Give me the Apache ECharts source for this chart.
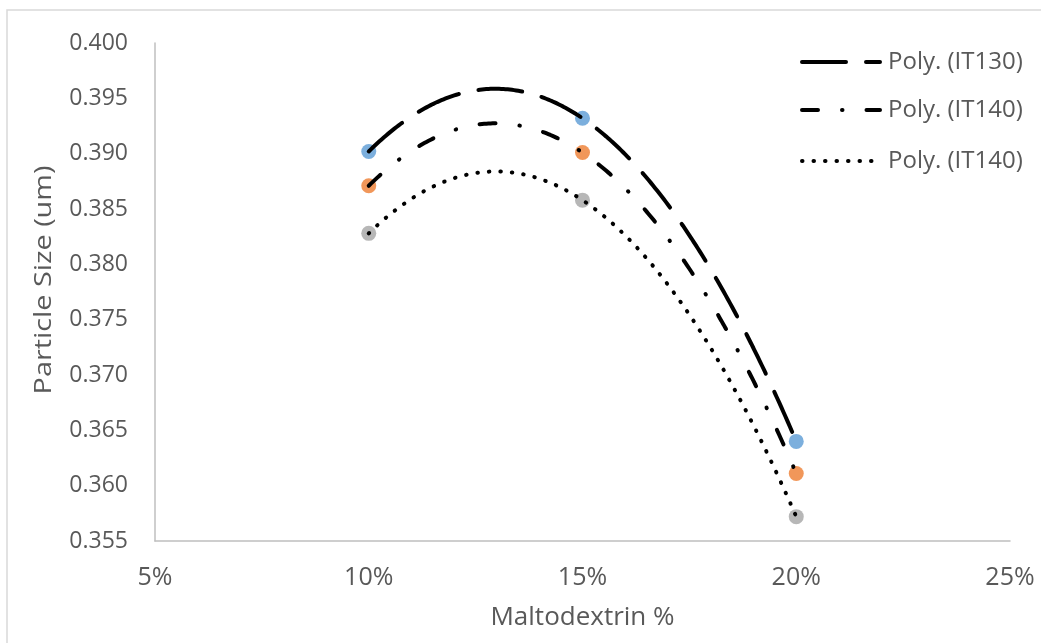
<!DOCTYPE html>
<html>
<head>
<meta charset="utf-8">
<style>
  html, body { margin: 0; padding: 0; background: #fff; }
  #chart { width: 1041px; height: 643px; }
</style>
<script src="https://cdn.jsdelivr.net/npm/echarts@6/dist/echarts.min.js"></script>
</head>
<body>
<div id="chart"></div>
<script>
// Maltodextrin concentration (%) and measured particle size (um)
const maltodextrin = [10, 15, 20];
const sizeIT130 = [0.3902, 0.3932, 0.3640];
const sizeIT140 = [0.3871, 0.3901, 0.3611];
const sizeIT140b = [0.3828, 0.3858, 0.3572];

const xTicks = [5, 10, 15, 20, 25];
const trendNames = ['Poly. (IT130)', 'Poly. (IT140)', 'Poly. (IT140)'];
const yTitle = 'Particle Size (um)';
const xTitle = 'Maltodextrin %';

// Dash patterns for the three trendlines
const dashIT130 = [44, 20];
const dashIT140 = [16, 24, 0.5, 24];
const dashIT140b = [0.5, 11];

// Second-order least-squares fit, evaluated across the measured range
function polyTrend(xs, ys) {
  const S = [0, 0, 0, 0, 0], T = [0, 0, 0];
  xs.forEach((x, i) => {
    for (let k = 0; k < 5; k++) S[k] += Math.pow(x, k);
    for (let k = 0; k < 3; k++) T[k] += ys[i] * Math.pow(x, k);
  });
  const A = [[S[0], S[1], S[2], T[0]], [S[1], S[2], S[3], T[1]], [S[2], S[3], S[4], T[2]]];
  for (let c = 0; c < 3; c++) {
    for (let r = c + 1; r < 3; r++) {
      const f = A[r][c] / A[c][c];
      for (let k = c; k < 4; k++) A[r][k] -= f * A[c][k];
    }
  }
  const b = [0, 0, 0];
  for (let r = 2; r >= 0; r--) {
    let s = A[r][3];
    for (let k = r + 1; k < 3; k++) s -= A[r][k] * b[k];
    b[r] = s / A[r][r];
  }
  const lo = Math.min(...xs), hi = Math.max(...xs);
  const pts = [];
  for (let i = 0; i <= 200; i++) {
    const x = lo + (hi - lo) * i / 200;
    pts.push([x, b[0] + b[1] * x + b[2] * x * x]);
  }
  return pts;
}

const pairs = ys => maltodextrin.map((x, i) => [x, ys[i]]);

const textColor = '#595959';
const wideFont = '"Open Sans", Lato, sans-serif';
const narrowFont = '"Liberation Sans Narrow", "Open Sans", sans-serif';
const LINE_W = 4;

const chart = echarts.init(document.getElementById('chart'), null, { renderer: 'canvas' });

const markerSeries = (data, color) => ({
  type: 'scatter',
  data: pairs(data),
  symbol: 'circle',
  symbolSize: 15,
  itemStyle: { color: color },
  z: 2,
  silent: true
});

const trendSeries = (name, data, dash) => ({
  name: name,
  type: 'line',
  data: polyTrend(maltodextrin, data),
  showSymbol: false,
  symbol: 'none',
  lineStyle: { color: '#000', width: LINE_W, type: dash, cap: 'round' },
  z: 3,
  silent: true
});

// Legend block on the right: line sample followed by the trendline name
const legendRows = [
  { name: trendNames[0], dash: dashIT130, y: 62 },
  { name: trendNames[1], dash: dashIT140, y: 110 },
  { name: trendNames[2], dash: dashIT140b, y: 161 }
];
const legendGraphics = [];
legendRows.forEach(r => {
  legendGraphics.push({
    type: 'line',
    shape: { x1: 802, y1: r.y, x2: 880, y2: r.y },
    style: { stroke: '#000', lineWidth: LINE_W, lineDash: r.dash, lineCap: 'round' },
    silent: true
  });
  legendGraphics.push({
    type: 'text',
    x: 888,
    y: r.y,
    style: {
      text: r.name, fill: textColor, fontSize: 24, fontFamily: wideFont,
      verticalAlign: 'middle', align: 'left'
    },
    silent: true
  });
});

// Vertical axis title, stretched along its length
const yTitleGraphic = {
  type: 'text',
  x: 44,
  y: 280,
  rotation: Math.PI / 2,
  scaleX: 1.2,
  style: {
    text: yTitle, fill: textColor, fontSize: 24, fontFamily: wideFont,
    align: 'center', verticalAlign: 'middle'
  },
  silent: true
};

chart.setOption({
  animation: false,
  backgroundColor: '#fff',
  graphic: [{
    type: 'rect',
    shape: { x: 7, y: 10, width: 1040, height: 640 },
    style: { fill: 'none', stroke: '#D9D9D9', lineWidth: 1.5 },
    silent: true
  }, yTitleGraphic].concat(legendGraphics),
  grid: { left: 155, right: 31, top: 43, bottom: 102 },
  xAxis: {
    type: 'value',
    min: xTicks[0],
    max: xTicks[xTicks.length - 1],
    interval: 5,
    name: xTitle,
    nameLocation: 'middle',
    nameGap: 64,
    nameTextStyle: { color: textColor, fontSize: 26, fontFamily: narrowFont },
    axisLine: { lineStyle: { color: '#BFBFBF', width: 1.5 } },
    axisTick: { show: false },
    splitLine: { show: false },
    axisLabel: {
      color: textColor, fontSize: 25, fontFamily: narrowFont, margin: 24,
      formatter: v => v + '%'
    }
  },
  yAxis: {
    type: 'value',
    min: 0.355,
    max: 0.400,
    interval: 0.005,
    axisLine: { show: true, lineStyle: { color: '#BFBFBF', width: 1.5 } },
    axisTick: { show: false },
    splitLine: { show: false },
    axisLabel: {
      color: textColor, fontSize: 23, fontFamily: wideFont, margin: 27,
      formatter: v => v.toFixed(3)
    }
  },
  series: [
    markerSeries(sizeIT130, '#5B9BD5'),
    markerSeries(sizeIT140, '#ED7D31'),
    markerSeries(sizeIT140b, '#A5A5A5'),
    trendSeries(trendNames[0], sizeIT130, dashIT130),
    trendSeries(trendNames[1], sizeIT140, dashIT140),
    trendSeries(trendNames[2], sizeIT140b, dashIT140b)
  ]
});
</script>
</body>
</html>
